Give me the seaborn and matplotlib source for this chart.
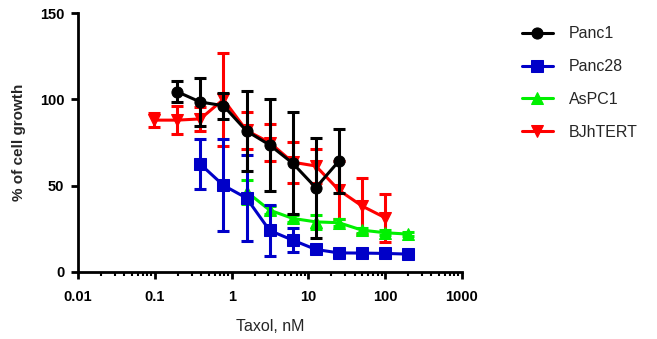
import numpy as np
import pandas as pd
import matplotlib
matplotlib.use("Agg")
import matplotlib.pyplot as plt
import seaborn as sns

# concentrations (nM), 2-fold dilution series
conc_panc1 = [0.195, 0.39, 0.78, 1.5625, 3.125, 6.25, 12.5, 25]
panc1 = [104.5, 98.5, 96.4, 81.7, 73.6, 63.0, 48.8, 64.3]
panc1_err = [6.0, 14.0, 7.5, 23.0, 26.7, 29.5, 29.0, 18.5]

conc_panc28 = [0.39, 0.78, 1.5625, 3.125, 6.25, 12.5, 25, 50, 100, 200]
panc28 = [62.5, 50.2, 42.8, 24.0, 18.4, 13.0, 11.0, 10.9, 10.7, 10.3]
panc28_err = [14.5, 26.6, 25.0, 15.0, 7.0, 1.5, 1.0, 1.0, 1.0, 1.0]

conc_aspc1 = [1.5625, 3.125, 6.25, 12.5, 25, 50, 100, 200]
aspc1 = [46.5, 35.8, 31.0, 29.0, 28.5, 24.2, 22.7, 21.9]
aspc1_err = [7.0, 2.5, 2.0, 4.0, 2.0, 1.5, 1.5, 1.0]

conc_bjhtert = [0.098, 0.195, 0.39, 0.78, 1.5625, 3.125, 6.25, 12.5, 25, 50, 100]
bjhtert = [88.0, 88.0, 88.7, 100.0, 82.0, 75.0, 63.6, 61.4, 47.4, 38.2, 31.4]
bjhtert_err = [4.0, 8.0, 7.0, 27.0, 11.0, 10.5, 12.0, 10.0, 17.0, 16.0, 14.0]

series = ["Panc1", "Panc28", "AsPC1", "BJhTERT"]
colors = {"Panc1": "#000000", "Panc28": "#0000C8", "AsPC1": "#00F000", "BJhTERT": "#FF0000"}
markers = {"Panc1": "o", "Panc28": "s", "AsPC1": "^", "BJhTERT": "v"}

xs = {"Panc1": conc_panc1, "Panc28": conc_panc28, "AsPC1": conc_aspc1, "BJhTERT": conc_bjhtert}
ys = {"Panc1": panc1, "Panc28": panc28, "AsPC1": aspc1, "BJhTERT": bjhtert}
es = {"Panc1": panc1_err, "Panc28": panc28_err, "AsPC1": aspc1_err, "BJhTERT": bjhtert_err}

rows = []
for s in series:
    for x, y, e in zip(xs[s], ys[s], es[s]):
        rows.append({"conc": x, "growth": y, "err": e, "line": s})
df = pd.DataFrame(rows)

sns.set_theme(style="ticks")
plt.rcParams["font.family"] = ["Liberation Sans", "DejaVu Sans"]

fig = plt.figure(figsize=(6.57, 3.39), dpi=100)
ax = fig.add_axes([0.119, 0.198, 0.584, 0.763])

zorders = {"Panc1": 10, "Panc28": 8, "AsPC1": 6, "BJhTERT": 4}
for s in series[::-1]:
    d = df[df["line"] == s]
    ax.errorbar(d["conc"], d["growth"], yerr=d["err"], fmt="none",
                ecolor=colors[s], elinewidth=2.2, capsize=4.5, capthick=2.2,
                zorder=zorders[s])
    sns.lineplot(data=d, x="conc", y="growth", ax=ax, color=colors[s],
                 marker=markers[s], markersize=8, markeredgecolor=colors[s],
                 linewidth=2.2, label=s, errorbar=None, zorder=zorders[s] + 1)

ax.set_xscale("log")
ax.set_xlim(0.01, 1000)
ax.set_ylim(0, 150)
ax.set_yticks([0, 50, 100, 150])
ax.set_xticks([0.01, 0.1, 1, 10, 100, 1000])
ax.set_xticklabels(["0.01", "0.1", "1", "10", "100", "1000"])
ax.xaxis.set_minor_locator(matplotlib.ticker.LogLocator(base=10, subs=np.arange(2, 10), numticks=20))
ax.xaxis.set_minor_formatter(matplotlib.ticker.NullFormatter())

for sp in ["top", "right"]:
    ax.spines[sp].set_visible(False)
for sp in ["left", "bottom"]:
    ax.spines[sp].set_linewidth(2)
    ax.spines[sp].set_color("black")
ax.tick_params(axis="both", which="major", direction="out", length=5, width=2, colors="black",
               labelsize=10.5)
ax.tick_params(axis="x", which="major", pad=8)
ax.tick_params(axis="y", which="major", pad=5)
ax.tick_params(axis="x", which="minor", direction="out", length=3, width=1.5, colors="black")
for lab in ax.get_xticklabels() + ax.get_yticklabels():
    lab.set_fontweight("bold")

ax.set_xlabel("Taxol, nM", fontsize=11.5, fontweight="normal", labelpad=11)
ax.set_ylabel("% of cell growth", fontsize=11, fontweight="bold", labelpad=10)

handles, labels = ax.get_legend_handles_labels()
order = [labels.index(s) for s in series]
leg = ax.legend([handles[i] for i in order], [labels[i] for i in order],
                loc="upper left", bbox_to_anchor=(1.12, 1.005), frameon=False,
                fontsize=11.5, handlelength=1.9, labelspacing=1.12, handletextpad=1.0)

fig.savefig("out.png", dpi=100)
